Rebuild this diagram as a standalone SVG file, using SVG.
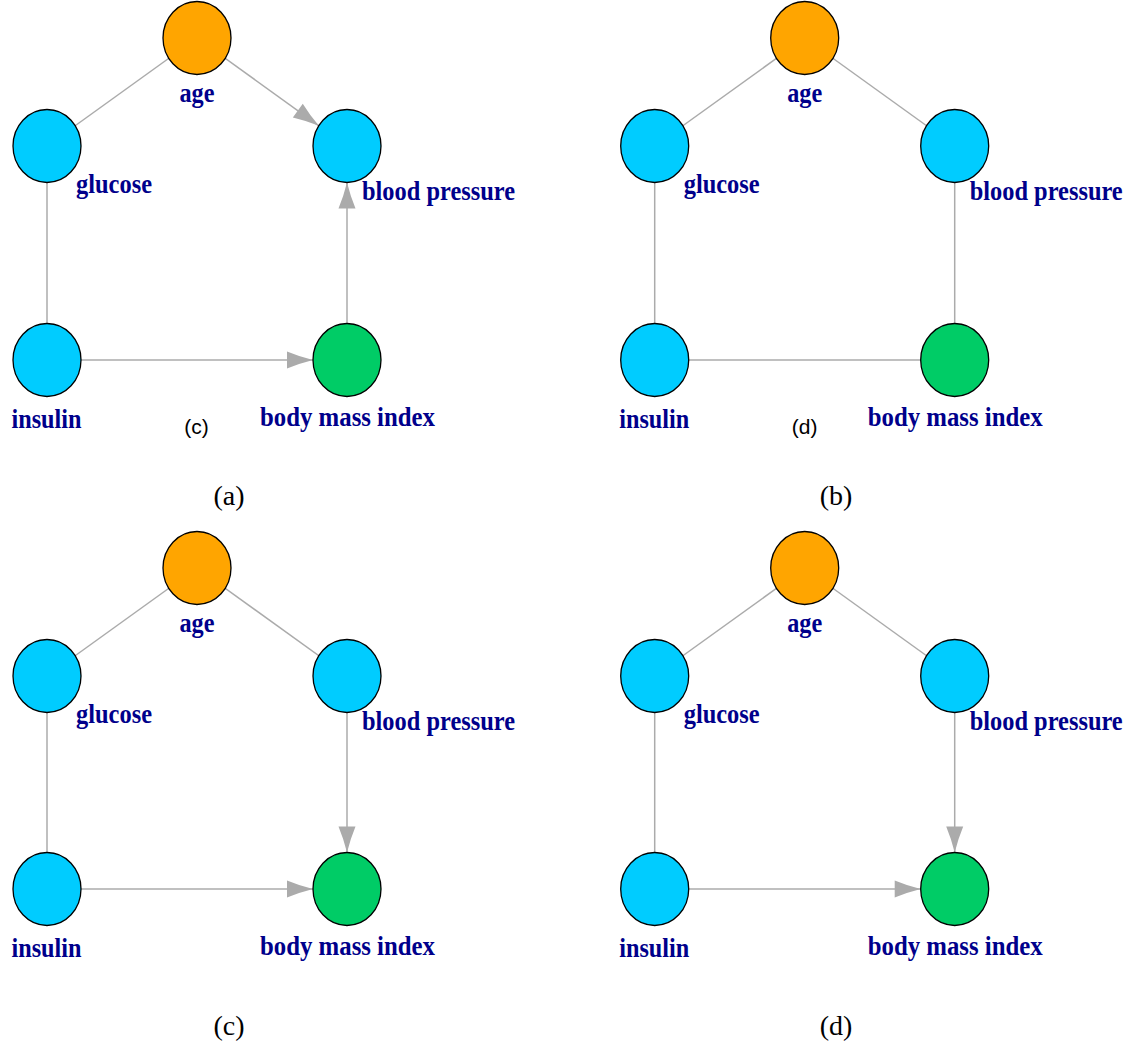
<svg xmlns="http://www.w3.org/2000/svg" width="1143" height="1048" viewBox="0 0 1143 1048">
<style>
.e{stroke:#ababab;stroke-width:1.5;fill:none}
.a{marker-end:url(#arr)}
.n{stroke:#000;stroke-width:1.3}
.or{fill:#ffa500}.cy{fill:#00ccff}.gr{fill:#00cc66}
.lb{font-family:"Liberation Serif",serif;font-weight:bold;font-size:27px;fill:#00008b}
.cap{font-family:"Liberation Serif",serif;font-size:28px;fill:#000;text-anchor:middle}
.sm{font-family:"Liberation Sans",sans-serif;font-size:21px;fill:#000;text-anchor:middle}
</style>
<defs>
<marker id="arr" markerUnits="userSpaceOnUse" viewBox="-28 -10 30 20" refX="0" refY="0" markerWidth="30" markerHeight="20" orient="auto">
<path d="M0,0 Q-14,-3.5 -26,-8.5 L-26,8.5 Q-14,3.5 0,0 Z" fill="#ababab"/>
</marker>
</defs>
<g id="connectors">
<!-- panel a -->
<line class="e" x1="197" y1="38" x2="47" y2="146"/>
<line class="e a" x1="197" y1="38" x2="318.9" y2="125.8"/>
<line class="e" x1="47" y1="146" x2="47" y2="360"/>
<line class="e a" x1="347" y1="360" x2="347" y2="182.5"/>
<line class="e a" x1="47" y1="360" x2="313" y2="360"/>
<!-- panel b -->
<line class="e" x1="804.7" y1="38" x2="654.7" y2="146"/>
<line class="e" x1="804.7" y1="38" x2="954.7" y2="146"/>
<line class="e" x1="654.7" y1="146" x2="654.7" y2="360"/>
<line class="e" x1="954.7" y1="146" x2="954.7" y2="360"/>
<line class="e" x1="654.7" y1="360" x2="954.7" y2="360"/>
<!-- panel c -->
<line class="e" x1="197" y1="568" x2="47" y2="676"/>
<line class="e" x1="197" y1="568" x2="347" y2="676"/>
<line class="e" x1="47" y1="676" x2="47" y2="889"/>
<line class="e a" x1="347" y1="676" x2="347" y2="852.5"/>
<line class="e a" x1="47" y1="889" x2="313" y2="889"/>
<!-- panel d -->
<line class="e" x1="804.7" y1="568" x2="654.7" y2="676"/>
<line class="e" x1="804.7" y1="568" x2="954.7" y2="676"/>
<line class="e" x1="654.7" y1="676" x2="654.7" y2="889"/>
<line class="e a" x1="954.7" y1="676" x2="954.7" y2="852.5"/>
<line class="e a" x1="654.7" y1="889" x2="920.7" y2="889"/>
</g>
<!-- panel a nodes -->
<g id="a-age"><ellipse class="n or" cx="197" cy="38" rx="34" ry="36.5"/><text class="lb" x="197" y="102" text-anchor="middle" textLength="35" lengthAdjust="spacingAndGlyphs">age</text></g>
<g id="a-glucose"><ellipse class="n cy" cx="47" cy="146" rx="34" ry="36.5"/><text class="lb" x="76" y="193" textLength="76" lengthAdjust="spacingAndGlyphs">glucose</text></g>
<g id="a-bp"><ellipse class="n cy" cx="347" cy="146" rx="34" ry="36.5"/><text class="lb" x="362" y="200" textLength="153" lengthAdjust="spacingAndGlyphs">blood pressure</text></g>
<g id="a-insulin"><ellipse class="n cy" cx="47" cy="360" rx="34" ry="36.5"/><text class="lb" x="11.5" y="428" textLength="70" lengthAdjust="spacingAndGlyphs">insulin</text></g>
<g id="a-bmi"><ellipse class="n gr" cx="347" cy="360" rx="34" ry="36.5"/><text class="lb" x="260" y="426" textLength="175" lengthAdjust="spacingAndGlyphs">body mass index</text></g>
<text class="sm" x="196.5" y="434">(c)</text>
<text class="cap" x="229" y="505">(a)</text>
<!-- panel b nodes -->
<g id="b-age"><ellipse class="n or" cx="804.7" cy="38" rx="34" ry="36.5"/><text class="lb" x="804.7" y="102" text-anchor="middle" textLength="35" lengthAdjust="spacingAndGlyphs">age</text></g>
<g id="b-glucose"><ellipse class="n cy" cx="654.7" cy="146" rx="34" ry="36.5"/><text class="lb" x="683.7" y="193" textLength="76" lengthAdjust="spacingAndGlyphs">glucose</text></g>
<g id="b-bp"><ellipse class="n cy" cx="954.7" cy="146" rx="34" ry="36.5"/><text class="lb" x="969.7" y="200" textLength="153" lengthAdjust="spacingAndGlyphs">blood pressure</text></g>
<g id="b-insulin"><ellipse class="n cy" cx="654.7" cy="360" rx="34" ry="36.5"/><text class="lb" x="619.2" y="428" textLength="70" lengthAdjust="spacingAndGlyphs">insulin</text></g>
<g id="b-bmi"><ellipse class="n gr" cx="954.7" cy="360" rx="34" ry="36.5"/><text class="lb" x="867.7" y="426" textLength="175" lengthAdjust="spacingAndGlyphs">body mass index</text></g>
<text class="sm" x="804.7" y="434">(d)</text>
<text class="cap" x="836" y="505">(b)</text>
<!-- panel c nodes -->
<g id="c-age"><ellipse class="n or" cx="197" cy="568" rx="34" ry="36.5"/><text class="lb" x="197" y="632" text-anchor="middle" textLength="35" lengthAdjust="spacingAndGlyphs">age</text></g>
<g id="c-glucose"><ellipse class="n cy" cx="47" cy="676" rx="34" ry="36.5"/><text class="lb" x="76" y="723" textLength="76" lengthAdjust="spacingAndGlyphs">glucose</text></g>
<g id="c-bp"><ellipse class="n cy" cx="347" cy="676" rx="34" ry="36.5"/><text class="lb" x="362" y="730" textLength="153" lengthAdjust="spacingAndGlyphs">blood pressure</text></g>
<g id="c-insulin"><ellipse class="n cy" cx="47" cy="889" rx="34" ry="36.5"/><text class="lb" x="11.5" y="957" textLength="70" lengthAdjust="spacingAndGlyphs">insulin</text></g>
<g id="c-bmi"><ellipse class="n gr" cx="347" cy="889" rx="34" ry="36.5"/><text class="lb" x="260" y="955" textLength="175" lengthAdjust="spacingAndGlyphs">body mass index</text></g>
<text class="cap" x="229" y="1035">(c)</text>
<!-- panel d nodes -->
<g id="d-age"><ellipse class="n or" cx="804.7" cy="568" rx="34" ry="36.5"/><text class="lb" x="804.7" y="632" text-anchor="middle" textLength="35" lengthAdjust="spacingAndGlyphs">age</text></g>
<g id="d-glucose"><ellipse class="n cy" cx="654.7" cy="676" rx="34" ry="36.5"/><text class="lb" x="683.7" y="723" textLength="76" lengthAdjust="spacingAndGlyphs">glucose</text></g>
<g id="d-bp"><ellipse class="n cy" cx="954.7" cy="676" rx="34" ry="36.5"/><text class="lb" x="969.7" y="730" textLength="153" lengthAdjust="spacingAndGlyphs">blood pressure</text></g>
<g id="d-insulin"><ellipse class="n cy" cx="654.7" cy="889" rx="34" ry="36.5"/><text class="lb" x="619.2" y="957" textLength="70" lengthAdjust="spacingAndGlyphs">insulin</text></g>
<g id="d-bmi"><ellipse class="n gr" cx="954.7" cy="889" rx="34" ry="36.5"/><text class="lb" x="867.7" y="955" textLength="175" lengthAdjust="spacingAndGlyphs">body mass index</text></g>
<text class="cap" x="836" y="1035">(d)</text>
</svg>
